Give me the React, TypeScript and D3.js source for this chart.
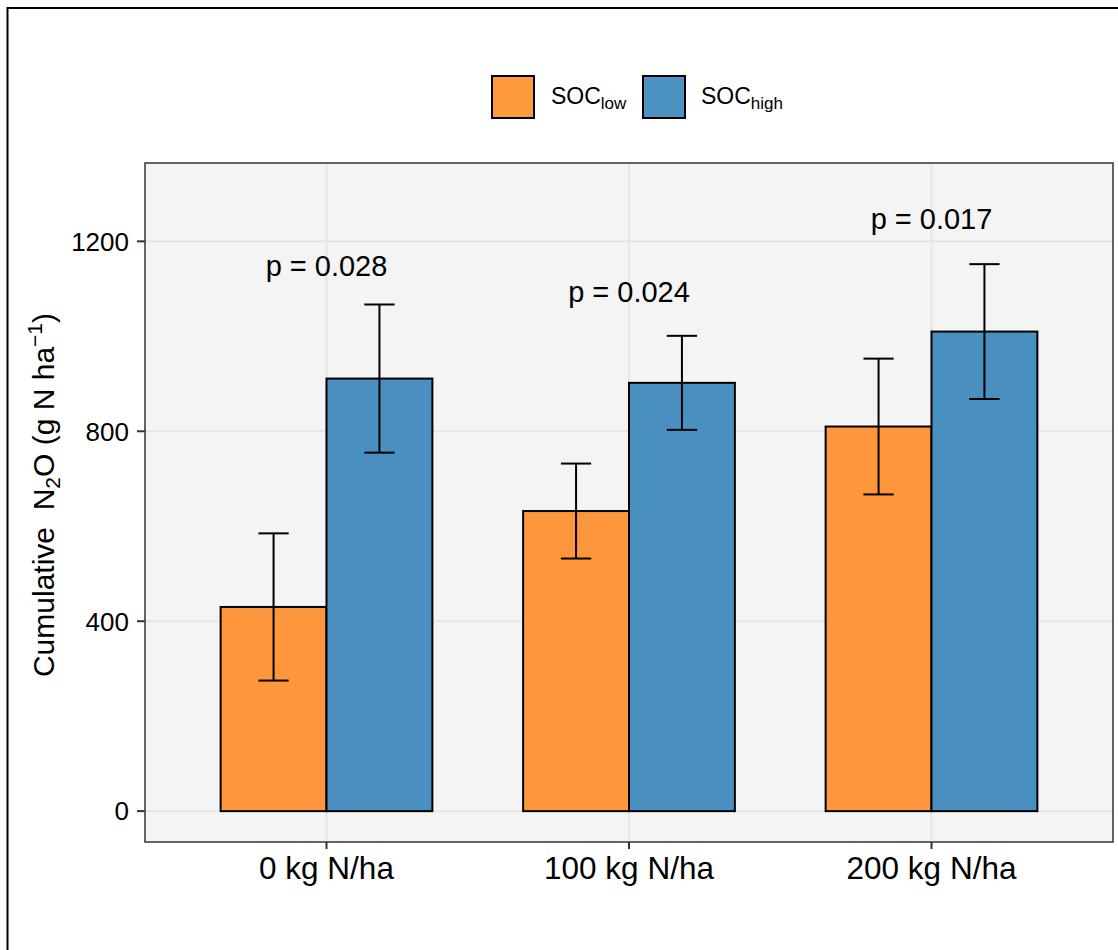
import React from "react";
import * as d3 from "d3";

const categories = ["0 kg N/ha", "100 kg N/ha", "200 kg N/ha"];
const seriesKeys = ["low", "high"];
const socLow = [430, 632, 810];
const socLowErr = [155, 100, 143];
const socHigh = [911, 902, 1010];
const socHighErr = [156, 99, 142];
const pLabels = ["p = 0.028", "p = 0.024", "p = 0.017"];
const pLabelY = [1126, 1073, 1225];
const yTicks = [0, 400, 800, 1200];

const W = 1118;
const H = 950;
const panel = { left: 145, right: 1113, top: 163, bottom: 842 };
const FONT = "'Liberation Sans', Arial, sans-serif";

const colorsBar = ["#FD963C", "#4990C1"];
const colorsKey = ["#FF993E", "#4C92C3"];

export default function App() {
  const y = d3.scaleLinear().domain([-65, 1365]).range([panel.bottom, panel.top]);
  const xCont = d3.scaleLinear().domain([0.4, 3.6]).range([panel.left, panel.right]);
  const bandW = xCont(1.7) - xCont(1.0); // dodge width 0.7
  const barW = bandW / 2;
  const capW = xCont(1.1) - xCont(1.0);

  const series = [
    { vals: socLow, errs: socLowErr },
    { vals: socHigh, errs: socHighErr },
  ];

  return (
    <div style={{ position: "absolute", left: 0, top: 0 }}>
      <svg width={W} height={H} style={{ display: "block", background: "#fff" }} fontFamily={FONT}>
        {/* outer border */}
        <path d={`M7.5,${H + 5} L7.5,8 L${W + 5},8`} fill="none" stroke="#000" strokeWidth={2} />

        {/* legend */}
        <g>
          <rect x={492} y={76} width={42} height={42} fill={colorsKey[0]} stroke="#000" strokeWidth={2} />
          <text x={551} y={104} fontSize={23} fill="#000">
            SOC<tspan fontSize={17} dy={5}>low</tspan>
          </text>
          <rect x={643} y={76} width={42} height={42} fill={colorsKey[1]} stroke="#000" strokeWidth={2} />
          <text x={701} y={104} fontSize={23} fill="#000">
            SOC<tspan fontSize={17} dy={5}>high</tspan>
          </text>
        </g>

        {/* panel */}
        <rect x={panel.left} y={panel.top} width={panel.right - panel.left} height={panel.bottom - panel.top} fill="#F4F4F4" />
        {yTicks.map((t) => (
          <line key={"gy" + t} x1={panel.left} x2={panel.right} y1={y(t)} y2={y(t)} stroke="#E6E6E6" strokeWidth={2} />
        ))}
        {categories.map((c, i) => (
          <line key={"gx" + c} x1={xCont(i + 1)} x2={xCont(i + 1)} y1={panel.top} y2={panel.bottom} stroke="#E6E6E6" strokeWidth={2} />
        ))}

        {/* bars */}
        {categories.map((c, i) =>
          series.map((s, j) => {
            const x0 = xCont(i + 1) - bandW / 2 + j * barW;
            return (
              <rect
                key={c + seriesKeys[j]}
                x={x0}
                y={y(s.vals[i])}
                width={barW}
                height={y(0) - y(s.vals[i])}
                fill={colorsBar[j]}
                stroke="#000"
                strokeWidth={2}
              />
            );
          })
        )}

        {/* error bars */}
        {categories.map((c, i) =>
          series.map((s, j) => {
            const cx = xCont(i + 1) - bandW / 2 + j * barW + barW / 2;
            const hi = y(s.vals[i] + s.errs[i]);
            const lo = y(s.vals[i] - s.errs[i]);
            return (
              <g key={"e" + c + seriesKeys[j]} stroke="#000" strokeWidth={2}>
                <line x1={cx} x2={cx} y1={hi} y2={lo} />
                <line x1={cx - capW / 2} x2={cx + capW / 2} y1={hi} y2={hi} />
                <line x1={cx - capW / 2} x2={cx + capW / 2} y1={lo} y2={lo} />
              </g>
            );
          })
        )}

        {/* p labels */}
        {pLabels.map((p, i) => (
          <text key={p} x={xCont(i + 1)} y={y(pLabelY[i])} textAnchor="middle" fontSize={29} fill="#000">
            {p}
          </text>
        ))}

        {/* panel border */}
        <rect x={panel.left} y={panel.top} width={panel.right - panel.left} height={panel.bottom - panel.top} fill="none" stroke="#333" strokeWidth={1.5} />

        {/* y axis ticks */}
        {yTicks.map((t) => (
          <g key={"ty" + t}>
            <line x1={panel.left - 8} x2={panel.left} y1={y(t)} y2={y(t)} stroke="#333" strokeWidth={2} />
            <text x={panel.left - 16} y={y(t)} dy="0.36em" textAnchor="end" fontSize={26} fill="#000">
              {t}
            </text>
          </g>
        ))}

        {/* x axis ticks */}
        {categories.map((c, i) => (
          <g key={"tx" + c}>
            <line x1={xCont(i + 1)} x2={xCont(i + 1)} y1={panel.bottom} y2={panel.bottom + 7} stroke="#333" strokeWidth={2} />
            <text x={xCont(i + 1)} y={879} textAnchor="middle" fontSize={31.5} fill="#000">
              {c}
            </text>
          </g>
        ))}

        {/* y title */}
        <text transform={`translate(54, 495) rotate(-90)`} textAnchor="middle" fontSize={30} fill="#000">
          Cumulative{"\u00A0\u00A0"}N<tspan fontSize={21} dy={6}>2</tspan>
          <tspan dy={-6}>O (g N ha</tspan>
          <tspan fontSize={21} dy={-12}>−1</tspan>
          <tspan dy={12}>)</tspan>
        </text>
      </svg>
    </div>
  );
}
